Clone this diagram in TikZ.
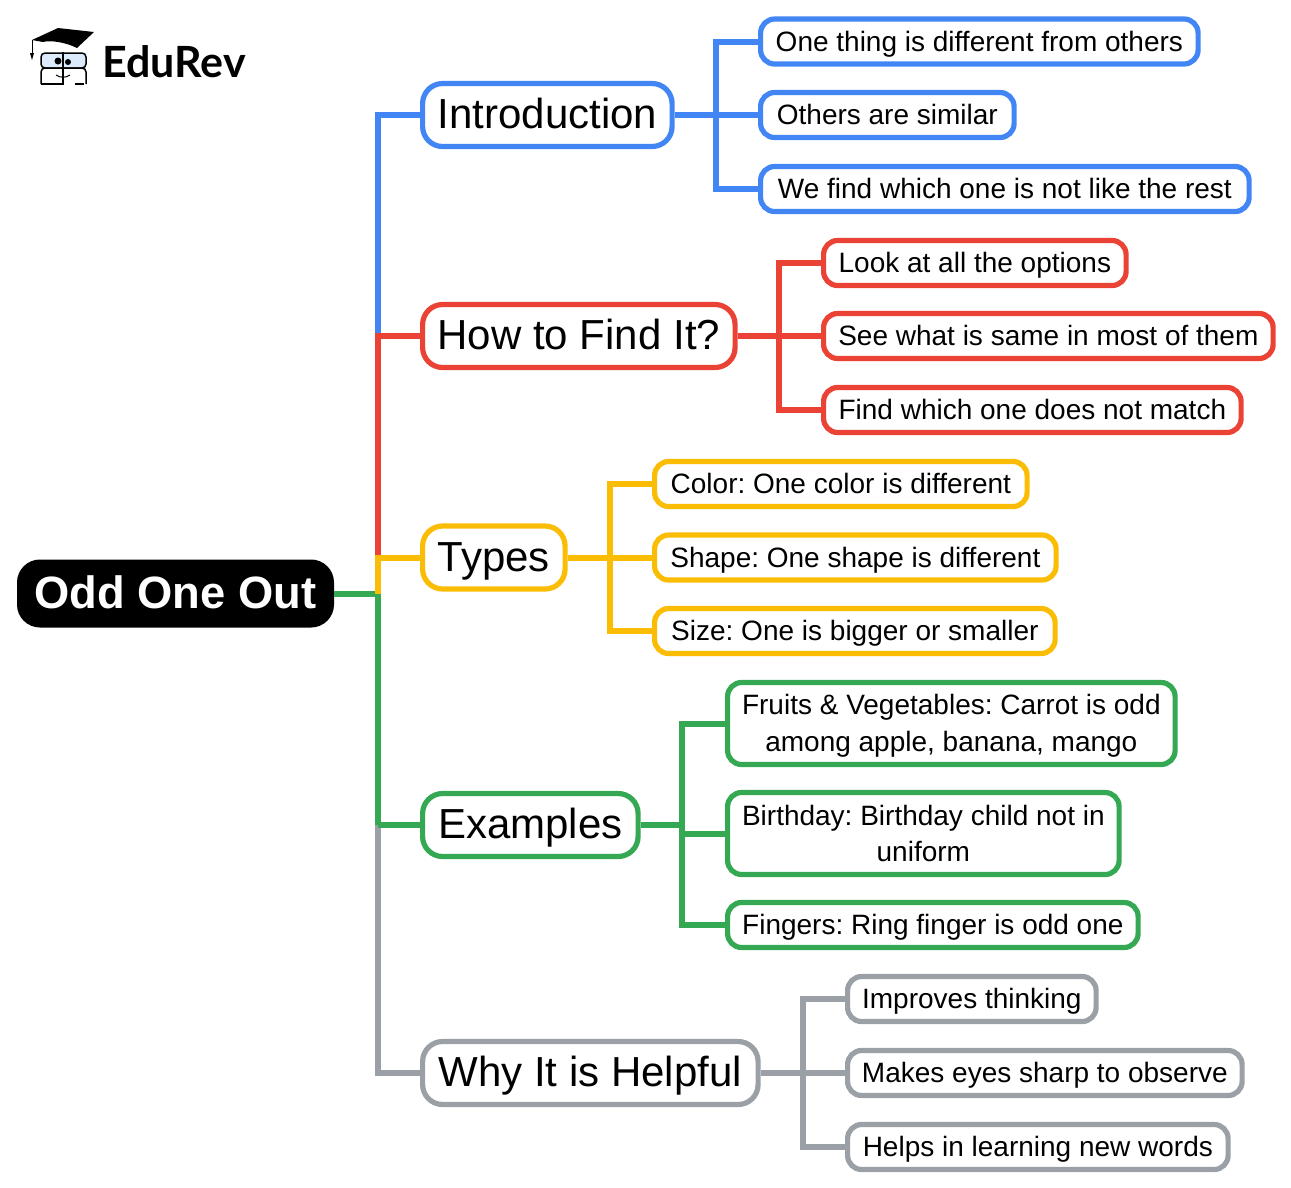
\documentclass[tikz,border=0pt]{standalone}
\usepackage{fontspec}
\setmainfont{Liberation Sans}
\newfontfamily\logofont{Lato}
\frenchspacing
\newcommand{\tallstrut}{\rule{0pt}{25pt}}
\definecolor{bluebranch}{HTML}{4285F4}
\definecolor{redbranch}{HTML}{EA4335}
\definecolor{yellowbranch}{HTML}{FBBC04}
\definecolor{greenbranch}{HTML}{34A853}
\definecolor{graybranch}{HTML}{9AA0A6}
\definecolor{glassblue}{HTML}{DCEBFB}
\tikzset{
  rootbox/.style={draw=black, fill=black, text=white, line width=6pt, rounded corners=20pt, anchor=west, minimum height=62pt, inner sep=0pt, text height=40pt, text depth=10pt, font=\fontsize{45.3}{50}\selectfont\bfseries},
  topicbox/.style={draw=#1, fill=white, line width=5.2pt, rounded corners=20pt, anchor=west, minimum height=63pt, inner sep=0pt, text height=34pt, text depth=7pt, font=\fontsize{42}{48}\selectfont},
  leafbox/.style={draw=#1, fill=white, line width=5.2pt, rounded corners=14pt, anchor=west, minimum height=45pt, inner sep=0pt, align=center, text height=24pt, text depth=5pt, font=\fontsize{28}{36.5}\selectfont},
  tallbox/.style={leafbox=#1, minimum height=82pt, text height=, text depth=},
  branch/.style={draw=#1, line width=6pt, line join=miter}
}
\begin{document}
\begin{tikzpicture}[x=1pt, y=-1pt]
  \useasboundingbox (0,0) rectangle (1291,1187);

  % trunk points
  \coordinate (tblue) at (378,115);
  \coordinate (tred) at (378,336);
  \coordinate (tyellow) at (378,557.5);
  \coordinate (tgreen) at (378,593.5);
  \coordinate (texamples) at (378,825);
  \coordinate (tgray) at (378,1073);

  % fork points
  \coordinate (fblue1) at (716,41.5);
  \coordinate (fblue3) at (716,189);
  \coordinate (fred1) at (779,263);
  \coordinate (fred3) at (779,410);
  \coordinate (fyellow1) at (610,484);
  \coordinate (fyellow3) at (610,631);
  \coordinate (fgreen1) at (682,723.5);
  \coordinate (fgreen3) at (682,925);
  \coordinate (fgreen2a) at (682,825);
  \coordinate (fgreen2b) at (682,833.5);
  \coordinate (fgray1) at (803,999);
  \coordinate (fgray3) at (803,1147);

  % boxes
  \node[rootbox, minimum width=311pt] (root) at (17,593.5) {Odd One Out};

  \node[topicbox=bluebranch, minimum width=249.5pt] (intro) at (420,115) {Introduction};
  \node[topicbox=redbranch, minimum width=312.5pt] (howto) at (420,336) {How to Find It?};
  \node[topicbox=yellowbranch, minimum width=142.5pt] (types) at (420,557.5) {Types};
  \node[topicbox=greenbranch, minimum width=215.5pt] (examples) at (420,825) {Examples};
  \node[topicbox=graybranch, minimum width=335.5pt] (helpful) at (420,1073) {Why It is Helpful};

  \node[leafbox=bluebranch, minimum width=437.5pt] (intro1) at (758,41.5) {One thing is different from others};
  \node[leafbox=bluebranch, minimum width=253.5pt] (intro2) at (758,115) {Others are similar};
  \node[leafbox=bluebranch, minimum width=488.5pt] (intro3) at (758,189) {We find which one is not like the rest};

  \node[leafbox=redbranch, minimum width=302.5pt] (howto1) at (821,263) {Look at all the options};
  \node[leafbox=redbranch, minimum width=449.5pt] (howto2) at (821,336) {See what is same in most of them};
  \node[leafbox=redbranch, minimum width=417.5pt] (howto3) at (821,410) {Find which one does not match};

  \node[leafbox=yellowbranch, minimum width=372.5pt] (types1) at (652,484) {Color: One color is different};
  \node[leafbox=yellowbranch, minimum width=401.5pt] (types2) at (652,557.5) {Shape: One shape is different};
  \node[leafbox=yellowbranch, minimum width=400.5pt] (types3) at (652,631) {Size: One is bigger or smaller};

  \node[tallbox=greenbranch, minimum width=447.5pt] (examples1) at (725,723.5) {\tallstrut Fruits \& Vegetables: Carrot is odd\\among apple, banana, mango};
  \node[tallbox=greenbranch, minimum width=391.5pt] (examples2) at (725,833.5) {Birthday: Birthday child not in\\uniform};
  \node[leafbox=greenbranch, minimum width=410.5pt] (examples3) at (725,925) {Fingers: Ring finger is odd one};

  \node[leafbox=graybranch, minimum width=248.5pt] (helpful1) at (845,999) {Improves thinking};
  \node[leafbox=graybranch, minimum width=394.5pt] (helpful2) at (845,1073) {Makes eyes sharp to observe};
  \node[leafbox=graybranch, minimum width=380.5pt] (helpful3) at (845,1147) {Helps in learning new words};

  % trunk
  \draw[branch=bluebranch] (intro.west) -- (tblue) -- (tred);
  \draw[branch=redbranch] (howto.west) -- (tred) -- (tyellow);
  \draw[branch=graybranch] (helpful.west) -- (tgray) -- (texamples);
  \draw[branch=greenbranch] (examples.west) -- (texamples);
  \draw[branch=greenbranch] (root.east) -- (tgreen) -- (texamples);
  \draw[branch=yellowbranch] (types.west) -- (tyellow) -- (tgreen);

  % forks
  \draw[branch=bluebranch] (intro1.west) -- (fblue1) -- (fblue3) -- (intro3.west);
  \draw[branch=bluebranch] (intro.east) -- (intro2.west);
  \draw[branch=redbranch] (howto1.west) -- (fred1) -- (fred3) -- (howto3.west);
  \draw[branch=redbranch] (howto.east) -- (howto2.west);
  \draw[branch=yellowbranch] (types1.west) -- (fyellow1) -- (fyellow3) -- (types3.west);
  \draw[branch=yellowbranch] (types.east) -- (types2.west);
  \draw[branch=greenbranch] (examples1.west) -- (fgreen1) -- (fgreen3) -- (examples3.west);
  \draw[branch=greenbranch] (examples.east) -- (fgreen2a) -- (fgreen2b) -- (examples2.west);
  \draw[branch=graybranch] (helpful1.west) -- (fgray1) -- (fgray3) -- (helpful3.west);
  \draw[branch=graybranch] (helpful.east) -- (helpful2.west);

  % logo
  \node[anchor=west, inner sep=0pt, font=\fontsize{43}{48}\selectfont\logofont\bfseries] (logo) at (102,62) {EduRev};
  \fill[black] (58,28) -- (94,32) -- (77,48) .. controls (65,42) and (50,40) .. (43,42) -- (32,40) -- cycle;
  \draw[black, line width=1pt] (32,40) -- (32,53);
  \fill[black] (30,53) -- (34,53) -- (32,60) -- cycle;
  \draw[black, line width=1.5pt, fill=glassblue, rounded corners=4pt] (41,53) rectangle (86,68);
  \draw[black, line width=1.5pt, rounded corners=4pt] (41,84) -- (41,68) -- (86,68) -- (86,84);
  \draw[black, line width=1.5pt] (41,84) -- (63,84) (75,84) -- (84,84);
  \draw[black, line width=1.5pt] (63,52) -- (63,85);
  \fill[black] (58,61) circle (3.5pt) (68,62) circle (3pt);
  \draw[black, line width=1pt] (56,75) .. controls (60,78) and (66,78) .. (70,75);
\end{tikzpicture}
\end{document}
